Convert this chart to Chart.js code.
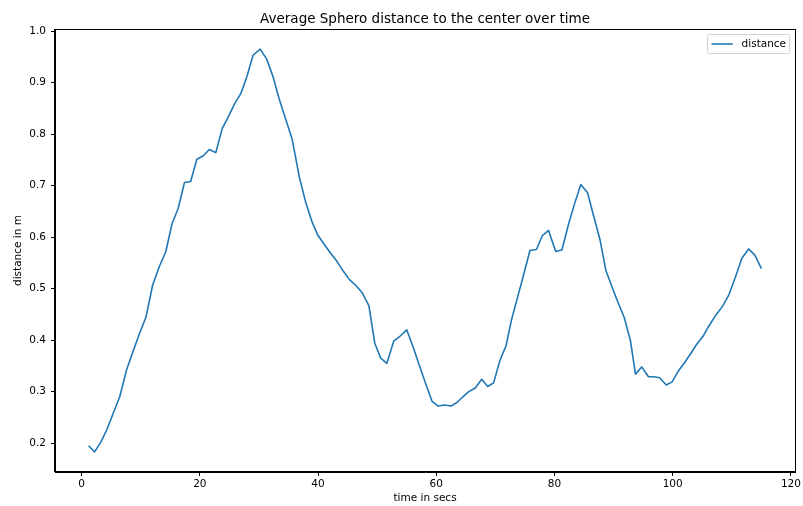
<!DOCTYPE html>
<html>
<head>
<meta charset="utf-8">
<title>Average Sphero distance</title>
<script src="https://cdn.jsdelivr.net/npm/chart.js@4.4.0/dist/chart.umd.min.js"></script>
<style>
  html, body { margin: 0; padding: 0; background: #fff; }
  canvas { display: block; }
</style>
</head>
<body>
<canvas id="distChart" width="803" height="506"></canvas>
<script>
// time stamps (s) and mean distance (m) of the Sphero to the center
const times = [
  1.18, 2.2, 3.3, 4.3, 5.35, 6.45, 7.6, 8.7, 9.8, 10.9,
  12.0, 13.15, 14.25, 15.3, 16.35, 17.4, 18.45, 19.5, 20.6, 21.6,
  22.7, 23.8, 24.8, 25.9, 26.95, 27.95, 29.0, 30.2, 31.3, 32.4,
  33.4, 34.5, 35.6, 36.85, 37.9, 39.0, 40.0, 41.1, 42.1, 43.2,
  44.2, 45.35, 46.4, 47.4, 48.6, 49.6, 50.6, 51.65, 52.8, 53.9,
  55.0, 56.1, 57.1, 58.2, 59.3, 60.3, 61.4, 62.5, 63.5, 64.5,
  65.5, 66.6, 67.7, 68.7, 69.7, 70.75, 71.8, 72.7, 73.75, 74.8,
  75.85, 76.95, 77.95, 79.0, 80.2, 81.25, 82.4, 83.4, 84.45, 85.6,
  86.6, 87.7, 88.7, 89.7, 90.75, 91.8, 92.85, 93.7, 94.75, 95.9,
  96.8, 97.8, 98.9, 99.9, 100.9, 102.05, 103.0, 104.0, 105.1, 106.1,
  107.2, 108.5, 109.5, 110.6, 111.7, 112.85, 113.9, 115.0
];
const distance = [
  0.195, 0.183, 0.203, 0.227, 0.258, 0.290, 0.342, 0.378, 0.413, 0.445,
  0.506, 0.543, 0.572, 0.626, 0.656, 0.706, 0.708, 0.751, 0.758, 0.770,
  0.764, 0.811, 0.833, 0.859, 0.879, 0.911, 0.953, 0.965, 0.946, 0.911,
  0.869, 0.830, 0.791, 0.716, 0.668, 0.629, 0.603, 0.585, 0.569, 0.553,
  0.535, 0.517, 0.506, 0.493, 0.467, 0.394, 0.365, 0.355, 0.398, 0.408,
  0.420, 0.386, 0.352, 0.316, 0.281, 0.272, 0.274, 0.272, 0.279, 0.290,
  0.300, 0.307, 0.324, 0.310, 0.317, 0.360, 0.389, 0.438, 0.483, 0.528,
  0.574, 0.576, 0.603, 0.613, 0.572, 0.575, 0.626, 0.665, 0.702, 0.686,
  0.642, 0.595, 0.535, 0.504, 0.473, 0.444, 0.399, 0.334, 0.348, 0.329,
  0.329, 0.327, 0.313, 0.319, 0.339, 0.357, 0.373, 0.391, 0.407, 0.427,
  0.447, 0.467, 0.488, 0.522, 0.559, 0.577, 0.565, 0.539
];
const xTicks = [0, 20, 40, 60, 80, 100, 120];
const yTicks = [0.2, 0.3, 0.4, 0.5, 0.6, 0.7, 0.8, 0.9, 1.0];

const LINE_COLOR = "#1f77b4";
const FONT = "'DejaVu Sans', sans-serif";

// box around the plot + legend in the upper right corner
const frameAndLegend = {
  id: "frameAndLegend",
  afterDraw(chart) {
    const { ctx, chartArea: a } = chart;
    ctx.save();
    ctx.strokeStyle = "#000";
    ctx.lineWidth = 1;
    ctx.strokeRect(Math.round(a.left) - 0.5, Math.round(a.top) + 0.5,
      Math.round(a.right - a.left) + 1, Math.round(a.bottom - a.top) - 1);

    const bx = a.right - 87.5, by = a.top + 5.5, bw = 82, bh = 19;
    ctx.beginPath();
    ctx.roundRect(bx, by, bw, bh, 2);
    ctx.fillStyle = "rgba(255,255,255,0.8)";
    ctx.fill();
    ctx.strokeStyle = "#d0d0d0";
    ctx.stroke();

    const cy = by + bh / 2;
    ctx.beginPath();
    ctx.moveTo(bx + 4, cy);
    ctx.lineTo(bx + 25, cy);
    ctx.strokeStyle = LINE_COLOR;
    ctx.lineWidth = 1.6;
    ctx.stroke();

    ctx.fillStyle = "#000";
    ctx.font = "10.5px " + FONT;
    ctx.textBaseline = "middle";
    ctx.fillText(chart.data.datasets[0].label, bx + 34, cy);
    ctx.restore();
  }
};

const ctx = document.getElementById("distChart").getContext("2d");
new Chart(ctx, {
  type: "line",
  data: {
    datasets: [{
      label: "distance",
      data: times.map((t, i) => ({ x: t, y: distance[i] })),
      borderColor: LINE_COLOR,
      borderWidth: 1.6,
      pointRadius: 0,
      tension: 0,
      borderJoinStyle: "round",
      fill: false
    }]
  },
  options: {
    responsive: false,
    animation: false,
    devicePixelRatio: 1,
    layout: { padding: { left: 0, right: 6, top: 0, bottom: 0 } },
    plugins: {
      legend: { display: false },
      tooltip: { enabled: false },
      title: {
        display: true,
        fullSize: false, // center over the plot area, not the whole canvas
        text: "Average Sphero distance to the center over time",
        color: "#000",
        font: { family: FONT, size: 13.5, weight: "normal" },
        padding: { top: 11, bottom: 1.8 }
      }
    },
    scales: {
      x: {
        type: "linear",
        min: -4.5,
        max: 120.7,
        afterBuildTicks: (s) => { s.ticks = xTicks.map((v) => ({ value: v })); },
        afterFit: (s) => { s.height = 34; },
        grid: { drawOnChartArea: false, drawTicks: true, tickLength: 4, color: "#000" },
        border: { display: true, color: "#000", width: 1 },
        ticks: { color: "#000", padding: 2, maxRotation: 0, font: { family: FONT, size: 10.5 } },
        title: {
          display: true,
          text: "time in secs",
          color: "#000",
          font: { family: FONT, size: 10.5 },
          padding: { top: 0, bottom: 1.5 }
        }
      },
      y: {
        type: "linear",
        min: 0.144,
        max: 1.004,
        afterBuildTicks: (s) => { s.ticks = yTicks.map((v) => ({ value: v })); },
        afterFit: (s) => { s.width = 55; },
        grid: { drawOnChartArea: false, drawTicks: true, tickLength: 4, color: "#000" },
        border: { display: true, color: "#000", width: 1 },
        ticks: {
          color: "#000",
          padding: 5,
          font: { family: FONT, size: 10.5 },
          callback: (v) => v.toFixed(1)
        },
        title: {
          display: true,
          text: "distance in m",
          color: "#000",
          font: { family: FONT, size: 10.5 },
          padding: { top: 12, bottom: 0 }
        }
      }
    }
  },
  plugins: [frameAndLegend]
});
</script>
</body>
</html>
